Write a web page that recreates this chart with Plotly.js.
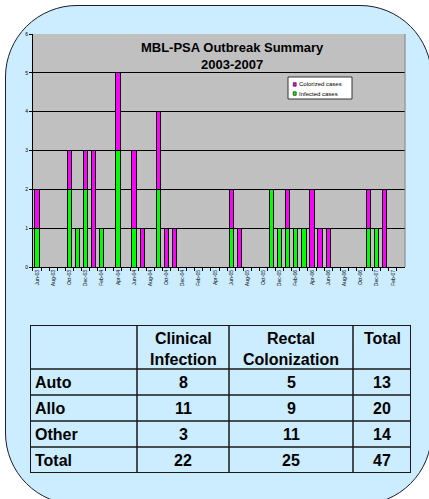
<!DOCTYPE html>
<html>
<head>
<meta charset="utf-8">
<script src="https://cdn.plot.ly/plotly-3.0.1.min.js"></script>
<style>
  html, body { margin: 0; padding: 0; background: #ffffff; }
  #wrap { position: relative; width: 429px; height: 499px; overflow: hidden; }
  #bg { position: absolute; left: 5px; top: 5px; width: 425px; height: 498px;
        border: 1.5px solid #1c1c30; border-radius: 72px; background: #ccecff; }
  #chart { position: absolute; left: 0; top: 0; width: 429px; height: 499px; }
</style>
</head>
<body>
<div id="wrap"><div id="bg"></div><div id="chart"></div></div>
<script>
const months = ["Jun-03","Jul-03","Aug-03","Sep-03","Oct-03","Nov-03","Dec-03","Jan-04","Feb-04","Mar-04",
  "Apr-04","May-04","Jun-04","Jul-04","Aug-04","Sep-04","Oct-04","Nov-04","Dec-04","Jan-05",
  "Feb-05","Mar-05","Apr-05","May-05","Jun-05","Jul-05","Aug-05","Sep-05","Oct-05","Nov-05",
  "Dec-05","Jan-06","Feb-06","Mar-06","Apr-06","May-06","Jun-06","Jul-06","Aug-06","Sep-06",
  "Oct-06","Nov-06","Dec-07","Jan-07","Feb-07","Mar-07"];
const infected = [1,0,0,0,2,1,2,0,1,0, 3,0,1,0,0,2,0,0,0,0, 0,0,0,0,1,0,0,0,0,2, 1,1,1,1,0,0,0,0,0,0, 0,1,1,0,0,0];
const colonized = [1,0,0,0,1,0,1,3,0,0, 2,0,2,1,0,2,1,1,0,0, 0,0,0,0,1,1,0,0,0,0, 0,1,0,0,2,1,1,0,0,0, 0,1,0,2,0,0];
const seriesNames = ["Infected cases", "Colorized cases"];
const seriesColors = ["#00ff00", "#ff00ff"];
const chartTitle = "MBL-PSA Outbreak Summary<br>2003-2007";

const tableHeader = ["", "Clinical<br>Infection", "Rectal<br>Colonization", "Total"];
const tableRows = ["Auto", "Allo", "Other", "Total"];
const clinicalInfection = [8, 11, 3, 22];
const rectalColonization = [5, 9, 11, 25];
const rowTotals = [13, 20, 14, 47];

// table geometry (layout only)
const colWidths = [107, 92, 124, 58];
const headerH = 44, rowH = 26;

const font = "Arial, 'Liberation Sans', sans-serif";
const nz = a => a.map(v => v === 0 ? null : v);
const tickText = months.map((m, i) => i % 2 === 0 ? m : "");

const traces = [
  { type: "bar", x: months, y: nz(infected), name: seriesNames[0], showlegend: false,
    marker: { color: seriesColors[0], line: { color: "#000000", width: 1 } }, xaxis: "x", yaxis: "y" },
  { type: "bar", x: months, y: nz(colonized), name: seriesNames[1], showlegend: false,
    marker: { color: seriesColors[1], line: { color: "#000000", width: 1 } }, xaxis: "x", yaxis: "y" },
  { type: "scatter", x: [], y: [], xaxis: "x2", yaxis: "y2", showlegend: false, hoverinfo: "skip" }
];

// table grid via x2/y2 axes
const colEdges = [0]; colWidths.forEach(w => colEdges.push(colEdges[colEdges.length - 1] + w));
const rowEdges = [0, headerH]; tableRows.forEach(() => rowEdges.push(rowEdges[rowEdges.length - 1] + rowH));
const tW = colEdges[colEdges.length - 1], tH = rowEdges[rowEdges.length - 1];

const shapes = [
  { type: "rect", xref: "x domain", yref: "y domain", x0: 0, x1: 1, y0: 0, y1: 1, layer: "below",
    fillcolor: "#c0c0c0", line: { width: 0 } },
  { type: "line", xref: "x domain", yref: "y domain", x0: 1, x1: 1, y0: 0, y1: 1,
    line: { color: "#808080", width: 1 } },
  // legend box
  { type: "rect", xref: "x domain", yref: "y domain", x0: 0.6855, x1: 0.8575, y0: 0.721, y1: 0.8155,
    fillcolor: "#ffffff", line: { color: "#333333", width: 1 } }
];
const annotations = [];

// legend entries (colonized on top)
const legY = [0.7835, 0.7445];
[1, 0].forEach((s, k) => {
  shapes.push({ type: "rect", xref: "x domain", yref: "y domain",
    x0: 0.6995, x1: 0.7075, y0: legY[k] - 0.0075, y1: legY[k] + 0.0075,
    fillcolor: seriesColors[s], line: { color: "#000", width: 0.6 } });
  annotations.push({ xref: "x domain", yref: "y domain", x: 0.7105, y: legY[k], xanchor: "left", yanchor: "middle",
    text: seriesNames[s], showarrow: false, font: { family: font, size: 6, color: "#000" } });
});

colEdges.forEach(x => shapes.push({ type: "line", xref: "x2", yref: "y2", x0: x, x1: x, y0: 0, y1: tH,
  line: { color: "#1a1a1a", width: (x === 0 || x === tW) ? 2 : 1.5 } }));
rowEdges.forEach(y => shapes.push({ type: "line", xref: "x2", yref: "y2", x0: 0, x1: tW, y0: y, y1: y,
  line: { color: "#1a1a1a", width: (y === 0 || y === tH) ? 2 : 1.5 } }));

const cellFont = { family: font, size: 16, color: "#000", weight: "bold" };
const colCenter = i => (colEdges[i] + colEdges[i + 1]) / 2;
tableHeader.forEach((h, i) => {
  if (!h) return;
  annotations.push({ xref: "x2", yref: "y2", x: colCenter(i), y: 3, xanchor: "center", yanchor: "top",
    text: h, showarrow: false, font: cellFont, align: "center" });
});
const cols = [clinicalInfection, rectalColonization, rowTotals];
tableRows.forEach((r, j) => {
  const yc = (rowEdges[j + 1] + rowEdges[j + 2]) / 2;
  annotations.push({ xref: "x2", yref: "y2", x: 3, y: yc, xanchor: "left", yanchor: "middle",
    text: r, showarrow: false, font: cellFont });
  cols.forEach((c, i) => annotations.push({ xref: "x2", yref: "y2", x: colCenter(i + 1), y: yc,
    xanchor: "center", yanchor: "middle", text: String(c[j]), showarrow: false, font: cellFont }));
});

const layout = {
  width: 429, height: 499,
  margin: { l: 20, r: 18, t: 34, b: 26 },
  paper_bgcolor: "rgba(0,0,0,0)",
  plot_bgcolor: "rgba(0,0,0,0)",
  barmode: "stack", bargap: 0.48,
  showlegend: false,
  font: { family: font, color: "#000" },
  title: { text: chartTitle, xref: "container", yref: "container", x: 0.541, xanchor: "center",
    y: 0.896, yanchor: "top", font: { family: font, size: 13, weight: "bold", color: "#000" } },
  xaxis: { domain: [0.0332, 0.9847], type: "category", tickmode: "array", tickvals: months, ticktext: tickText,
    tickangle: -90, tickfont: { size: 5, family: font }, ticks: "outside", ticklen: 3, tickcolor: "#000",
    tickson: "boundaries", showline: true, linecolor: "#000", linewidth: 1, showgrid: false, anchor: "y" },
  yaxis: { domain: [0.4692, 1], range: [0, 6], dtick: 1, tickfont: { size: 5, family: font },
    ticks: "outside", ticklen: 3, tickcolor: "#000", showline: true, linecolor: "#000", linewidth: 1,
    showgrid: true, gridcolor: "#000", gridwidth: 1, zeroline: false, anchor: "x" },
  xaxis2: { domain: [(30 - 20) / 391, 1], range: [0, tW], visible: false, anchor: "y2", fixedrange: true },
  yaxis2: { domain: [0, tH / 439], range: [tH, 0], visible: false, anchor: "x2", fixedrange: true },
  shapes: shapes,
  annotations: annotations
};

Plotly.newPlot("chart", traces, layout, { displayModeBar: false, staticPlot: true });
</script>
</body>
</html>
